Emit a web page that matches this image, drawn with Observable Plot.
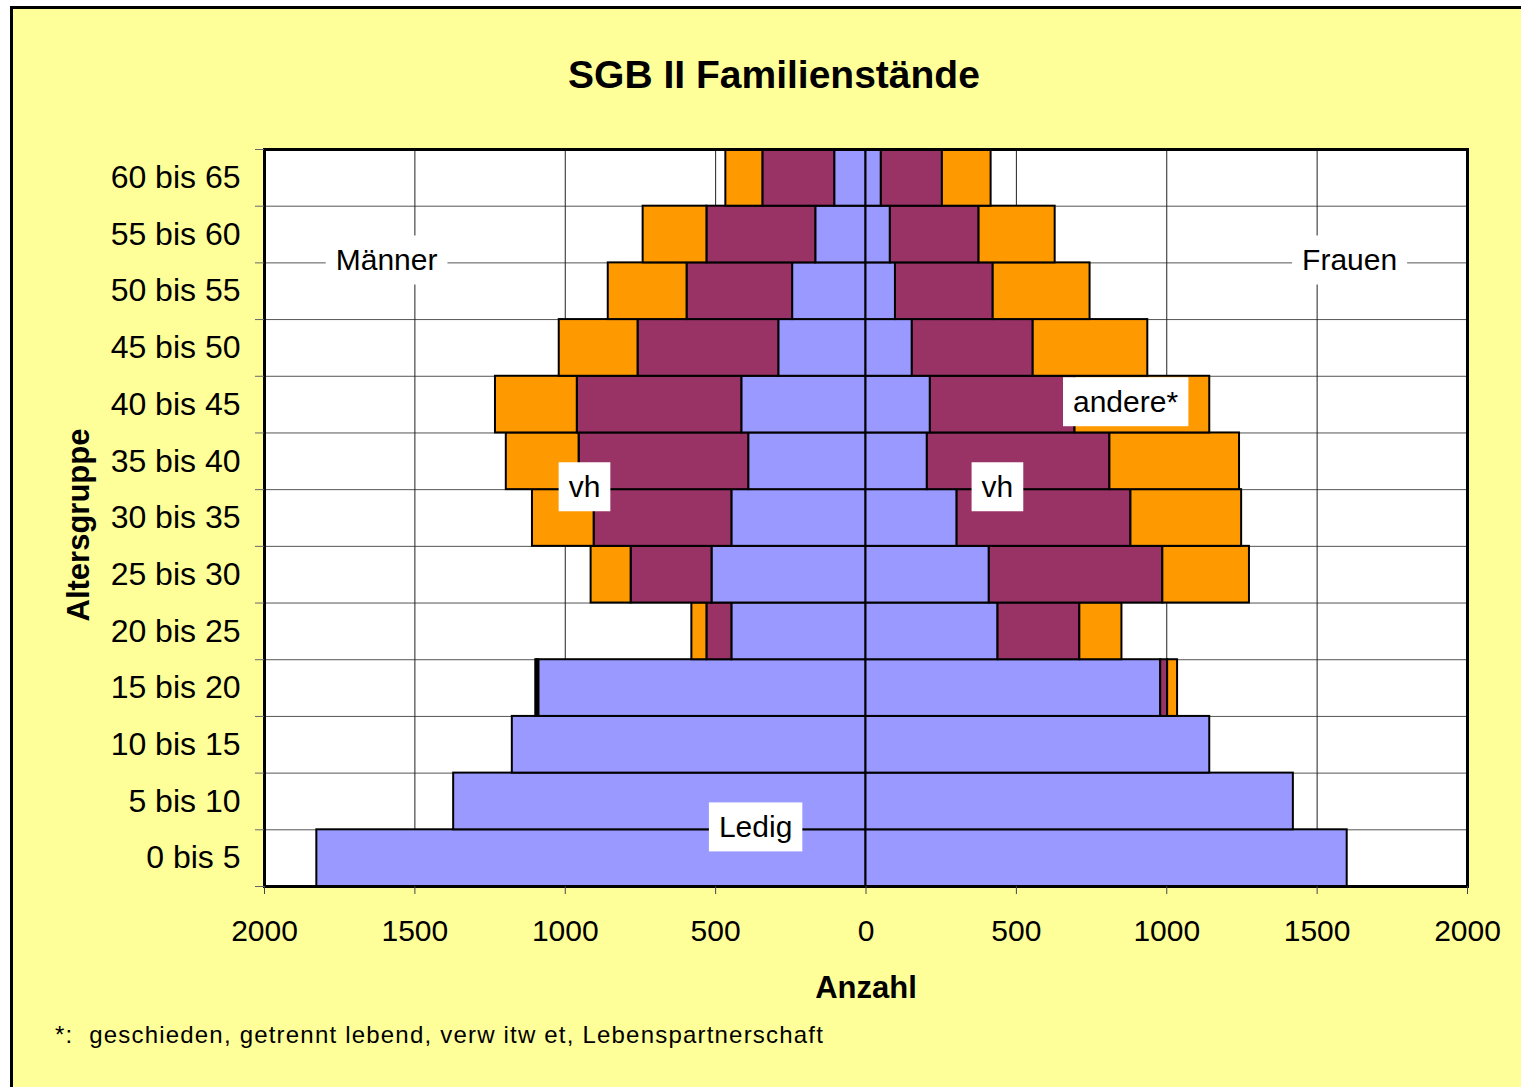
<!DOCTYPE html>
<html>
<head>
<meta charset="utf-8">
<script src="https://cdn.jsdelivr.net/npm/d3@7"></script>
<script src="https://cdn.jsdelivr.net/npm/@observablehq/plot@0.6"></script>
<style>
  html, body { margin: 0; padding: 0; background: #ffffff; width: 1521px; height: 1087px; overflow: hidden; }
  #frame { position: absolute; left: 10px; top: 6px; width: 1600px; height: 1200px; background: #ffff99;
           border-top: 3px solid #000; border-left: 3px solid #000; box-sizing: border-box; }
  #title { position: absolute; left: 274px; top: 56px; width: 1000px; text-align: center;
           font: bold 39px "Liberation Sans", Arial, sans-serif; line-height: 38px; color: #000; }
  #chart { position: absolute; left: 0; top: 115px; }
  #note { position: absolute; left: 55px; top: 1023px; white-space: pre; letter-spacing: 1.2px;
          font: 24px "Liberation Sans", Arial, sans-serif; line-height: 24px; color: #000; }
</style>
</head>
<body>
<div id="frame"></div>
<div id="title">SGB II Familienstände</div>
<div id="chart"></div>
<div id="note">*:  geschieden, getrennt lebend, verw itw et, Lebenspartnerschaft</div>
<script>
// ---- data ----
const ages = ["0 bis 5","5 bis 10","10 bis 15","15 bis 20","20 bis 25","25 bis 30","30 bis 35","35 bis 40","40 bis 45","45 bis 50","50 bis 55","55 bis 60","60 bis 65"];
const statuses = ["Ledig", "vh", "andere"];
const statusColors = ["#9999ff", "#993366", "#ff9900"];

const menLedig    = [1826, 1371, 1176, 1088, 446, 512, 446, 390, 413, 290, 244, 167, 104];
const menVh       = [0, 0, 0, 6, 83, 269, 458, 564, 547, 468, 351, 362, 239];
const menAndere   = [0, 0, 0, 4, 50, 133, 205, 242, 272, 262, 262, 212, 123];
const womenLedig  = [1600, 1421, 1143, 980, 439, 410, 303, 204, 214, 154, 98, 81, 51];
const womenVh     = [0, 0, 0, 23, 272, 577, 578, 607, 481, 402, 325, 295, 203];
const womenAndere = [0, 0, 0, 33, 140, 288, 368, 431, 448, 381, 322, 253, 162];

const xTicks = [-2000, -1500, -1000, -500, 0, 500, 1000, 1500, 2000];

// annotations: text, value position (Anzahl, signed), age-band position
const annText = ["Männer", "Frauen", "vh", "vh", "andere*", "Ledig"];
const annX    = [-1594, 1608, -936, 437, 863, -367];
const annY    = [11, 11, 7, 7, 8.5, 1];

// ---- build stacked table ----
const rows = [];
function addSide(series, sign) {
  ages.forEach((age, i) => {
    let cum = 0;
    series.forEach((arr, k) => {
      const v = arr[i];
      if (v > 0) {
        rows.push({age, status: statuses[k], x1: sign * cum, x2: sign * (cum + v), y1: i, y2: i + 1});
      }
      cum += v;
    });
  });
}
addSide([menLedig, menVh, menAndere], -1);
addSide([womenLedig, womenVh, womenAndere], 1);

const annotations = annText.map((t, i) => ({text: t, x: annX[i], y: annY[i]}));

const chart = Plot.plot({
  width: 1521,
  height: 895,
  marginTop: 34,
  marginBottom: 124,
  marginLeft: 264,
  marginRight: 54,
  style: {background: "transparent", fontFamily: "'Liberation Sans', Arial, sans-serif", color: "#000", overflow: "visible"},
  x: {domain: [-2000, 2000], axis: null},
  y: {domain: [0, ages.length], axis: null},
  color: {domain: statuses, range: statusColors},
  marks: [
    Plot.frame({fill: "white", stroke: "none"}),
    Plot.gridY({ticks: d3.range(1, ages.length), stroke: "#555", strokeOpacity: 1, strokeWidth: 1}),
    Plot.gridX({ticks: [-1500, -1000, -500, 500, 1000, 1500], stroke: "#222", strokeOpacity: 1, strokeWidth: 1}),
    Plot.rect(rows, {x1: "x1", x2: "x2", y1: "y1", y2: "y2", fill: "status", stroke: "#000", strokeWidth: 2}),
    Plot.frame({stroke: "#000", strokeWidth: 3}),
    Plot.axisY({ticks: d3.range(0, ages.length + 1), tickSize: 9, tickFormat: () => "", stroke: "#666", strokeWidth: 1}),
    Plot.axisY({ticks: d3.range(ages.length).map(i => i + 0.5), tickSize: 0, tickPadding: 24,
                tickFormat: d => ages[Math.floor(d)], fontSize: 32, fill: "#000", label: null}),
    Plot.axisX({ticks: xTicks, tickSize: 8, tickPadding: 25, tickFormat: d => String(Math.abs(d)),
                fontSize: 30, fill: "#000", stroke: "#444", label: null}),
    Plot.text(["Anzahl"], {frameAnchor: "bottom", lineAnchor: "middle", dy: 102, fontSize: 31, fontWeight: "bold", fill: "#000"}),
    Plot.text(["Altersgruppe"], {frameAnchor: "left", textAnchor: "middle", lineAnchor: "middle", dx: -185, dy: 7, rotate: -90, fontSize: 31, fontWeight: "bold", fill: "#000"}),
    Plot.text(annotations, {x: "x", y: "y", text: "text", dy: -2, fontSize: 30, fill: "#000"})
  ]
});

document.getElementById("chart").appendChild(chart);

// white boxes behind the in-chart labels
const svgNS = "http://www.w3.org/2000/svg";
chart.querySelectorAll("text").forEach(t => {
  if (annText.includes(t.textContent)) {
    const b = t.getBBox();
    const r = document.createElementNS(svgNS, "rect");
    r.setAttribute("x", b.x - 10);
    r.setAttribute("y", b.y - 8);
    r.setAttribute("width", b.width + 20);
    r.setAttribute("height", b.height + 16);
    r.setAttribute("fill", "white");
    const tr = t.getAttribute("transform");
    if (tr) r.setAttribute("transform", tr);
    t.parentNode.insertBefore(r, t);
  }
});
</script>
</body>
</html>
